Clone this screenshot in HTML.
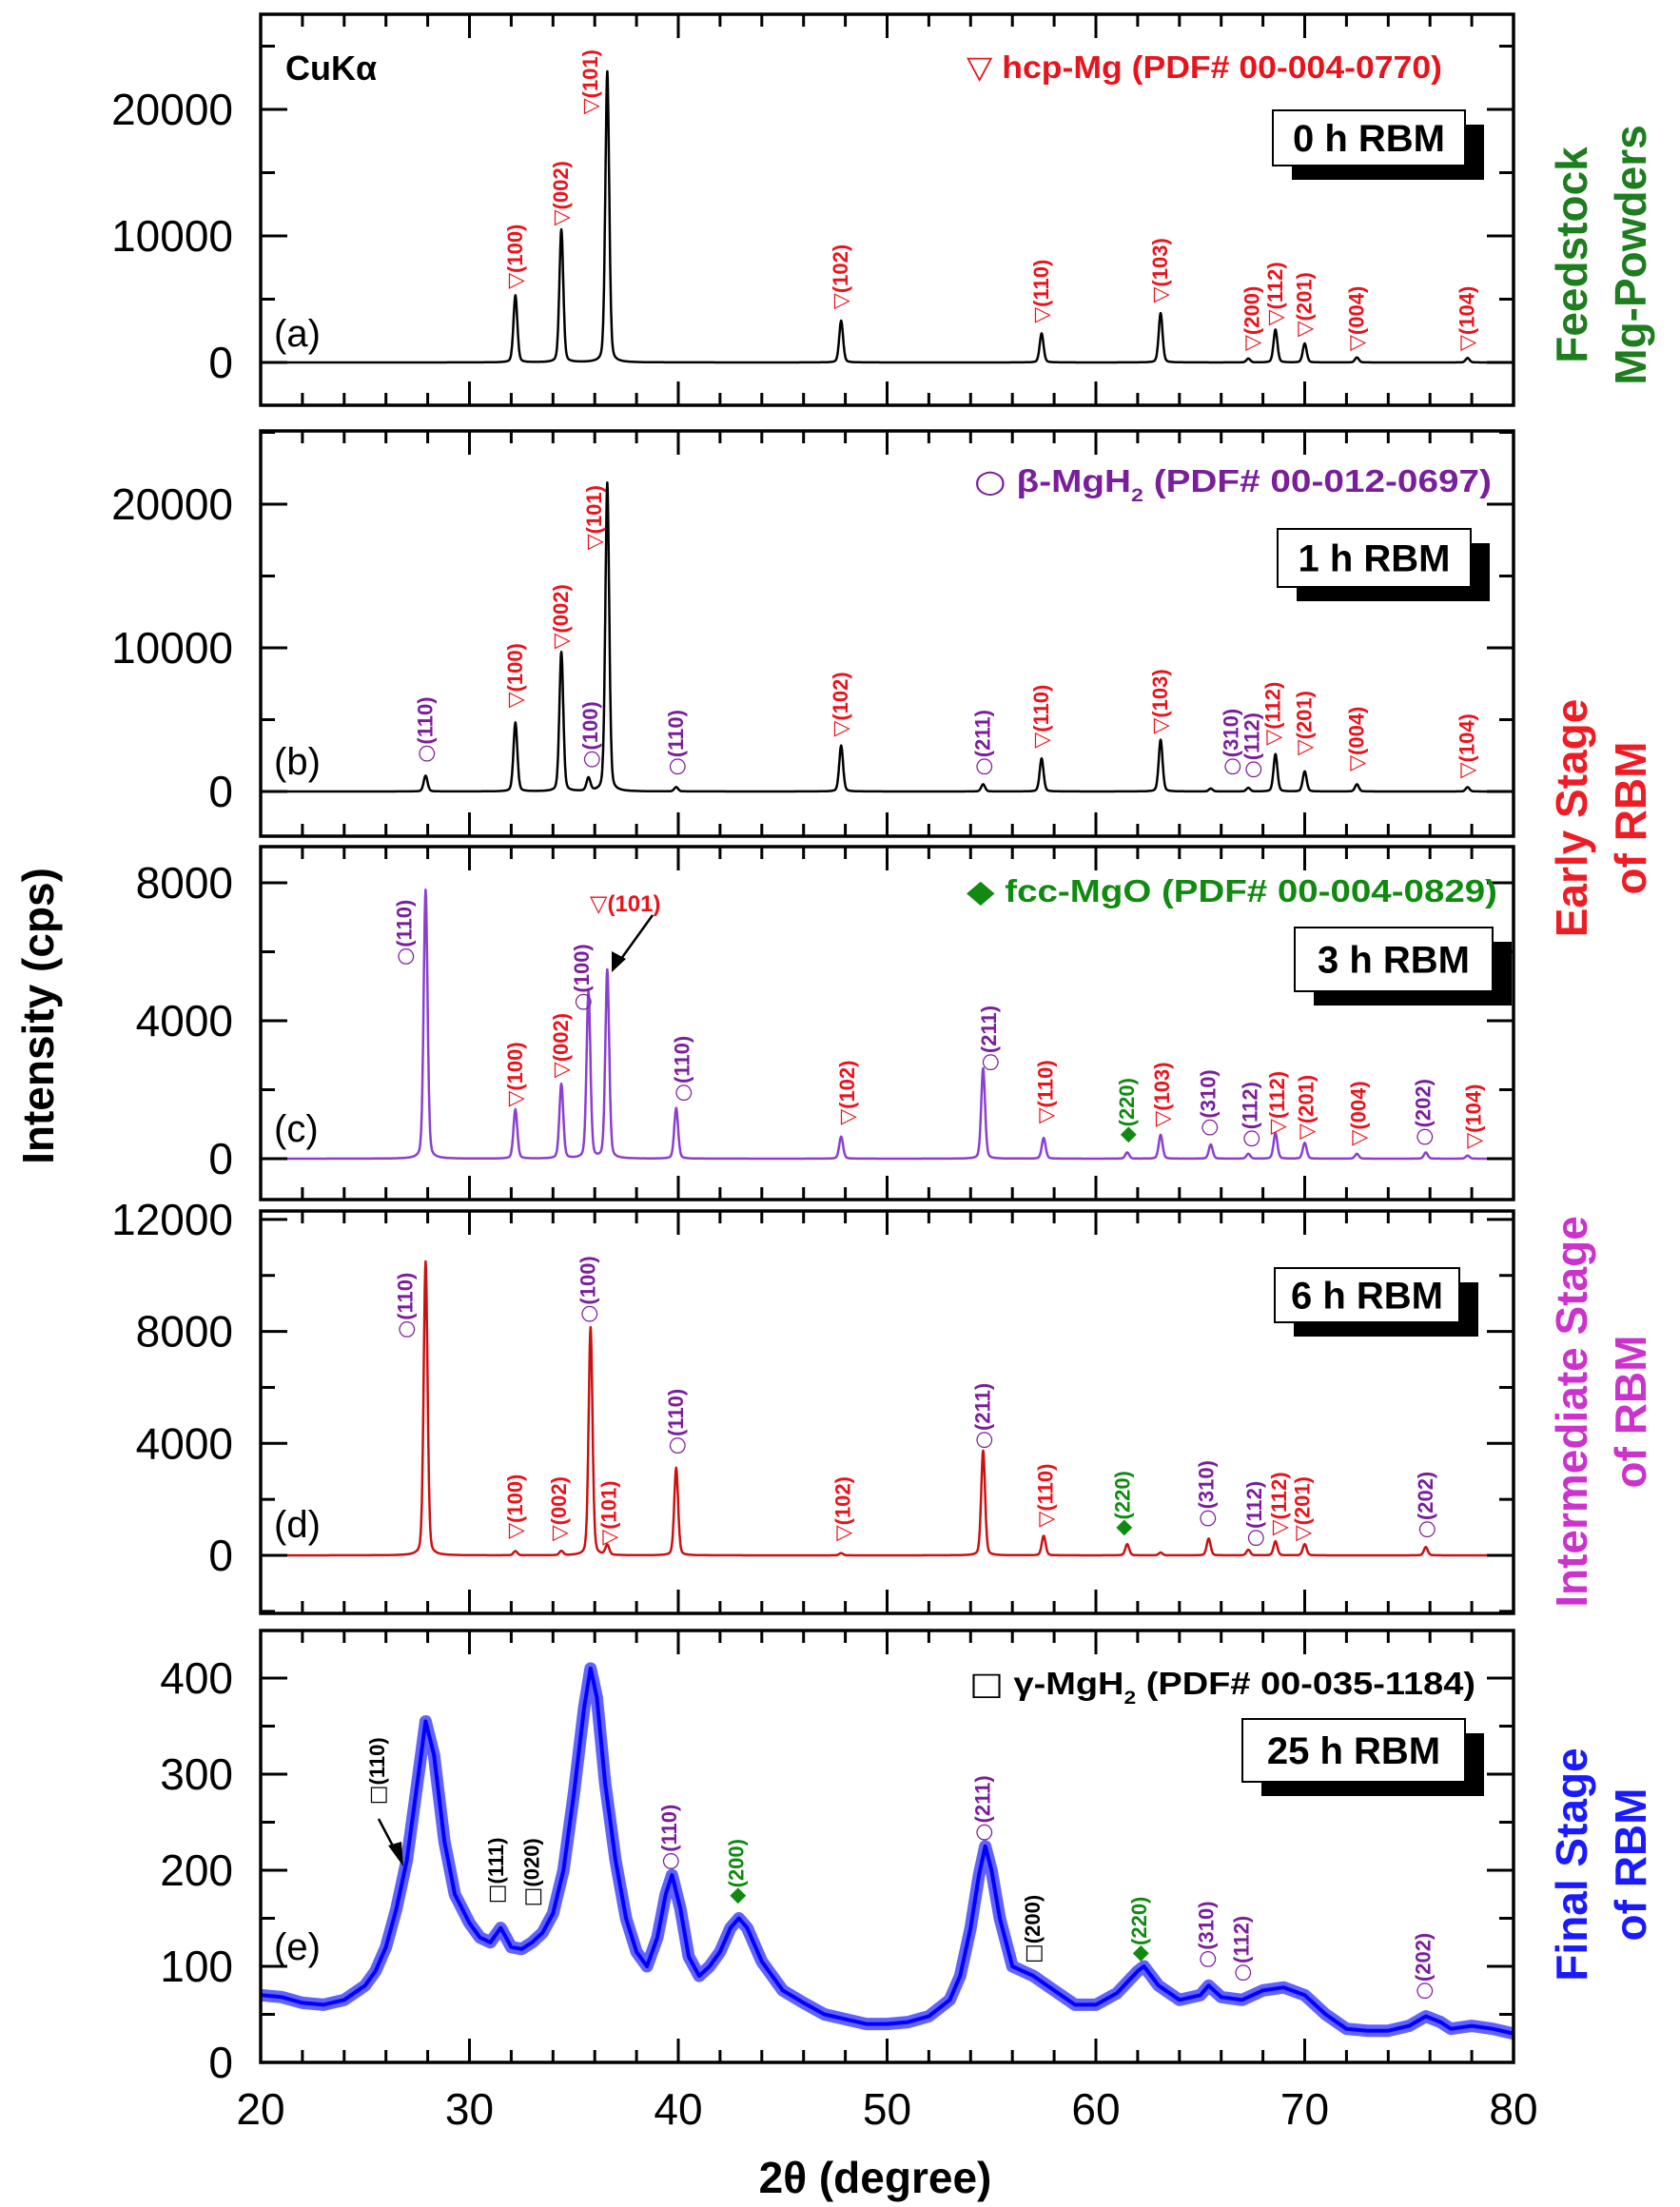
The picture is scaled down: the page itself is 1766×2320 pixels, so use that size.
<!DOCTYPE html>
<html><head><meta charset="utf-8">
<style>
html,body{margin:0;padding:0;background:#fff;}
svg{display:block;font-family:"Liberation Sans","DejaVu Sans",sans-serif;}
</style></head>
<body>
<svg id="chart" width="1766" height="2320" viewBox="0 0 1766 2320" xmlns="http://www.w3.org/2000/svg">
<text transform="translate(56,1068) rotate(-90)" text-anchor="middle" font-size="46" font-weight="bold">Intensity (cps)</text>
<text x="920" y="2305" text-anchor="middle" font-size="46" font-weight="bold">2θ (degree)</text>
<g font-size="46" font-weight="bold" fill="#1e7d1e" text-anchor="middle">
<text transform="translate(1668,268) rotate(-90)">Feedstock</text>
<text transform="translate(1730,268) rotate(-90)">Mg-Powders</text></g>
<g font-size="46" font-weight="bold" fill="#ee1c24" text-anchor="middle">
<text transform="translate(1668,860) rotate(-90)">Early Stage</text>
<text transform="translate(1730,860) rotate(-90)">of RBM</text></g>
<g font-size="46" font-weight="bold" fill="#cc33cc" text-anchor="middle">
<text transform="translate(1668,1484) rotate(-90)">Intermediate Stage</text>
<text transform="translate(1730,1484) rotate(-90)">of RBM</text></g>
<g font-size="46" font-weight="bold" fill="#1a1aff" text-anchor="middle">
<text transform="translate(1668,1960) rotate(-90)">Final Stage</text>
<text transform="translate(1730,1960) rotate(-90)">of RBM</text></g>
</svg>
<script>
// ---- data ----
const xTicks = [20,30,40,50,60,70,80];
// panel (a) 0 h
const aPeakPos = [32.2,34.4,36.6,47.8,57.4,63.1,67.3,68.6,70.0,72.5,77.8];
const aPeakInt = [5300,10500,23000,3300,2300,3900,300,2600,1500,400,350];
// panel (b) 1 h
const bPeakPos = [27.9,32.2,34.4,35.7,36.6,39.9,47.8,54.6,57.4,63.1,65.5,67.3,68.6,70.0,72.5,77.8];
const bPeakInt = [1100,4800,9700,900,21500,300,3200,500,2300,3600,200,250,2600,1400,500,300];
// panel (c) 3 h
const cPeakPos = [27.9,32.2,34.4,35.7,36.6,39.9,47.8,54.6,57.5,61.5,63.1,65.5,67.3,68.6,70.0,72.5,75.8,77.8];
const cPeakInt = [7800,1430,2160,4830,5470,1470,640,2620,600,180,690,410,140,740,460,140,180,90];
// panel (d) 6 h
const dPeakPos = [27.9,32.2,34.4,35.8,36.6,39.9,47.8,54.6,57.5,61.5,63.1,65.4,67.3,68.6,70.0,75.8];
const dPeakInt = [10500,150,150,8150,350,3130,80,3740,700,400,100,600,200,500,400,300];
// panel (e) 25 h
const eTth = [20,21,22,23,24,25,25.5,26,26.5,27,27.5,27.9,28.3,28.8,29.3,30,30.5,31,31.5,32,32.5,33,33.5,34,34.5,35,35.5,35.8,36.1,36.5,37,37.5,38,38.5,39,39.4,39.7,40.1,40.5,41,41.5,42,42.5,42.9,43.3,44,45,46,47,48,49,50,51,52,53,53.5,54,54.4,54.7,55,55.4,56,57,58,59,60,61,62,62.3,63,64,65,65.4,66,67,68,69,70,71,72,73,74,75,75.8,76.5,77,78,79,80];
const eInt = [70,68,62,60,65,80,95,120,160,210,290,355,320,230,175,145,130,125,140,120,118,125,135,155,200,280,370,410,380,290,210,150,115,100,130,175,195,160,110,90,100,115,140,150,140,105,75,62,50,45,40,40,42,48,65,90,140,195,225,200,150,100,90,75,60,60,72,95,100,80,65,70,80,68,65,75,78,70,50,35,33,33,38,48,42,35,38,35,30];
// y tick values
const aYTicks=[0,10000,20000], bYTicks=[0,10000,20000], cYTicks=[0,4000,8000], dYTicks=[0,4000,8000,12000], eYTicks=[0,100,200,300,400];
// annotation labels [pos, bottom value, text, phase]
const aLabels=[[32.2,5800,'(100)','h'],[34.4,10800,'(002)','h'],[35.8,19600,'(101)','h'],[47.8,4200,'(102)','h'],[57.4,3100,'(110)','h'],[63.1,4700,'(103)','h'],[67.5,900,'(200)','h'],[68.6,2900,'(112)','h'],[70.0,2000,'(201)','h'],[72.5,900,'(004)','h'],[77.8,900,'(104)','h']];
const bLabels=[[27.9,2000,'(110)','b'],[32.2,5800,'(100)','h'],[34.4,9900,'(002)','h'],[36.0,16800,'(101)','h'],[35.8,1600,'(100)','b'],[39.9,1100,'(110)','b'],[47.8,3800,'(102)','h'],[54.6,1100,'(211)','b'],[57.4,3000,'(110)','h'],[63.1,4000,'(103)','h'],[66.5,1100,'(310)','b'],[67.5,900,'(112)','b'],[68.5,3200,'(112)','h'],[70.0,2500,'(201)','h'],[72.5,1400,'(004)','h'],[77.8,900,'(104)','h']];
const cLabels=[[26.9,5600,'(110)','b'],[32.2,1500,'(100)','h'],[34.4,2340,'(002)','h'],[35.4,4280,'(100)','b'],[40.2,1650,'(110)','b'],[48.1,970,'(102)','h'],[54.9,2530,'(211)','b'],[57.6,1010,'(110)','h'],[61.5,460,'(220)','m'],[63.2,920,'(103)','h'],[65.4,640,'(310)','b'],[67.4,320,'(112)','b'],[68.7,690,'(112)','h'],[70.1,550,'(201)','h'],[72.6,370,'(004)','h'],[75.7,370,'(202)','b'],[78.1,280,'(104)','h']];
const dLabels=[[26.95,7750,'(110)','b'],[32.2,580,'(100)','h'],[34.3,500,'(002)','h'],[36.7,350,'(101)','h'],[35.7,8300,'(100)','b'],[39.9,3600,'(110)','b'],[47.9,500,'(102)','h'],[54.6,3800,'(211)','b'],[57.6,1000,'(110)','h'],[61.3,700,'(220)','m'],[65.3,1000,'(310)','b'],[67.6,300,'(112)','b'],[68.8,700,'(112)','h'],[69.9,500,'(201)','h'],[75.8,600,'(202)','b']];
const eLabels=[[25.6,268,'(110)','g'],[31.3,165,'(111)','g'],[33.0,162,'(020)','g'],[39.6,200,'(110)','b'],[42.8,165,'(200)','m'],[54.6,230,'(211)','b'],[57.0,103,'(200)','g'],[62.1,105,'(220)','m'],[65.3,98,'(310)','b'],[67.0,84,'(112)','b'],[75.7,65,'(202)','b']];

// ---- layout ----
const NS='http://www.w3.org/2000/svg';
const svg=document.getElementById('chart');
const X0=274,X1=1591;
const xs=v=>X0+(v-20)*(X1-X0)/60;
const phaseSym={h:'\u25BD',b:'\u25CB',m:'\u25C6',g:'\u25A1'};
const phaseCol={h:'#e8141c',b:'#7a1f9a',m:'#108a10',g:'#000'};
function el(tag,attrs,parent){const e=document.createElementNS(NS,tag);for(const k in attrs)e.setAttribute(k,attrs[k]);(parent||svg).appendChild(e);return e;}

const panels=[
 {id:'a',top:15,bot:426,y0:381,ppu:133/10000,ticks:aYTicks,minor:5000,pos:aPeakPos,int:aPeakInt,color:'#000',labels:aLabels,tag:'(a)',tagY:364,
  legend:{sym:'\u25BD',text:' hcp-Mg (PDF# 00-004-0770)',x:1016,y:82,w:500,fs:33,col:'#e8141c'},box:{t:'0 h RBM',x:1338,y:116,w:202,h:58}},
 {id:'b',top:453,bot:879,y0:832,ppu:151/10000,ticks:bYTicks,minor:5000,pos:bPeakPos,int:bPeakInt,color:'#000',labels:bLabels,tag:'(b)',tagY:814,
  legend:{sym:'\u25CB',text:' \u03B2-MgH',sub:'2',text2:' (PDF# 00-012-0697)',x:1024,y:517,w:544,fs:33,col:'#7a1f9a'},box:{t:'1 h RBM',x:1343,y:556,w:203,h:61}},
 {id:'c',top:890,bot:1261,y0:1218,ppu:145/4000,ticks:cYTicks,minor:2000,pos:cPeakPos,int:cPeakInt,color:'#8a3fd0',labels:cLabels,tag:'(c)',tagY:1200,
  legend:{sym:'\u25C6',text:' fcc-MgO (PDF# 00-004-0829)',x:1016,y:948,w:558,fs:33,col:'#108a10'},box:{t:'3 h RBM',x:1361,y:975,w:208,h:67}},
 {id:'d',top:1273,bot:1696,y0:1635,ppu:117.7/4000,ticks:dYTicks,minor:2000,pos:dPeakPos,int:dPeakInt,color:'#cc1010',labels:dLabels,tag:'(d)',tagY:1616,
  legend:null,box:{t:'6 h RBM',x:1340,y:1333,w:194,h:57}},
 {id:'e',top:1714,bot:2168,y0:2168,ppu:101/100,ticks:eYTicks,minor:50,pos:null,int:null,color:'#0000ff',labels:eLabels,tag:'(e)',tagY:2060,
  legend:{sym:'\u25A1',text:' \u03B3-MgH',sub:'2',text2:' (PDF# 00-035-1184)',x:1019,y:1781,w:532,fs:33,col:'#000'},box:{t:'25 h RBM',x:1306,y:1807,w:234,h:66}}
];

panels.forEach(p=>{
  const g=el('g',{});
  
  
  const ys=v=>p.y0-v*p.ppu;
  let d='';
  if(p.pos){
    for(let t=20;t<=80.0001;t+=0.02){
      let s=0;
      for(let i=0;i<p.pos.length;i++){const z=(t-p.pos[i])/0.11;s+=p.int[i]*(0.75*Math.exp(-0.693*z*z)+0.25/(1+z*z));}
      d+=(d?'L':'M')+xs(t).toFixed(1)+','+ys(s).toFixed(1);
    }
  } else {
    for(let i=0;i<eTth.length;i++) d+=(i?'L':'M')+xs(eTth[i]).toFixed(1)+','+ys(eInt[i]).toFixed(1);
    const band=el('path',{d:d,fill:'none',stroke:'#2020ff','stroke-width':13,'stroke-opacity':0.7,'stroke-linejoin':'round'},g);
    
    
  }
  const line=el('path',{d:d,fill:'none',stroke:p.color,'stroke-width':p.pos?2.5:4,'stroke-linejoin':'round'},g);
  
  
  const fr=el('rect',{x:X0,y:p.top,width:X1-X0,height:p.bot-p.top,fill:'none',stroke:'#000','stroke-width':3.5},g);
  
  
  for(let v=20;v<=80;v+=2){
    const L=(v%10===0)?25:13;
    el('line',{x1:xs(v),x2:xs(v),y1:p.top,y2:p.top+L,stroke:'#000','stroke-width':3},g);
    el('line',{x1:xs(v),x2:xs(v),y1:p.bot,y2:p.bot-L,stroke:'#000','stroke-width':3},g);
  }
  const maxV=(p.y0-p.top)/p.ppu, minV=(p.y0-p.bot)/p.ppu;
  for(let v=Math.ceil(minV/p.minor)*p.minor;v<=maxV;v+=p.minor){
    const major=p.ticks.includes(v), L=major?28:15, y=ys(v);
    el('line',{x1:X0,x2:X0+L,y1:y,y2:y,stroke:'#000','stroke-width':3},g);
    el('line',{x1:X1,x2:X1-L,y1:y,y2:y,stroke:'#000','stroke-width':3},g);
  }
  p.ticks.forEach(v=>{
    const t=el('text',{x:245,y:ys(v)+16,'text-anchor':'end','font-size':46},g);
    t.textContent=String(v);
    
    
  });
  const tg=el('text',{x:288,y:p.tagY,'font-size':40},g);
  tg.textContent=p.tag;
  
  
  p.labels.forEach(l=>{
    const t=el('text',{transform:'translate('+(xs(l[0])+7).toFixed(1)+','+ys(l[1]).toFixed(1)+') rotate(-90)','font-size':22,'font-weight':'bold',fill:phaseCol[l[3]]},g);
    const s=el('tspan',{fill:phaseCol[l[3]],'font-family':'DejaVu Sans'},t); s.textContent=phaseSym[l[3]];
    const r=el('tspan',{},t); r.textContent=l[2];
    
    
  });
  if(p.legend){
    const L=p.legend;
    const t=el('text',{x:L.x,y:L.y,'font-size':L.fs,'font-weight':'bold',fill:L.col,textLength:L.w,lengthAdjust:'spacingAndGlyphs'},g);
    const s=el('tspan',{'font-family':'DejaVu Sans'},t); s.textContent=L.sym;
    const a=el('tspan',{},t); a.textContent=L.text;
    if(L.sub){const sb=el('tspan',{dy:10,'font-size':L.fs*0.6},t);sb.textContent=L.sub;const b=el('tspan',{dy:-10},t);b.textContent=L.text2;}
    
    
  }
  const B=p.box;
  el('rect',{x:B.x+20,y:B.y+15,width:B.w,height:B.h,fill:'#000'},g);
  el('rect',{x:B.x,y:B.y,width:B.w,height:B.h,fill:'#fff',stroke:'#000','stroke-width':2},g);
  const bt=el('text',{x:B.x+B.w/2,y:B.y+B.h/2+14,'text-anchor':'middle','font-size':40,'font-weight':'bold'},g);
  bt.textContent=B.t;
  
  
});
const cu=el('text',{x:300,y:84,'font-size':36,'font-weight':'bold'});
cu.textContent='CuK\u03B1';


const c101=el('text',{x:620,y:958,'font-size':24,'font-weight':'bold',fill:'#e8141c'});
c101.textContent='\u25BD(101)';


const ar=el('line',{x1:686,y1:962,x2:650,y2:1012,stroke:'#000','stroke-width':2.5});


el('polygon',{points:'643,1022 643,1000 658,1008',fill:'#000'});
const ae=el('line',{x1:398,y1:1912,x2:418,y2:1950,stroke:'#000','stroke-width':2.5});


el('polygon',{points:'424,1962 408,1940 422,1936',fill:'#000'});
xTicks.forEach(v=>{
  const t=el('text',{x:xs(v),y:2233,'text-anchor':'middle','font-size':46});
  t.textContent=String(v);
  
  
});
</script>
</body></html>
